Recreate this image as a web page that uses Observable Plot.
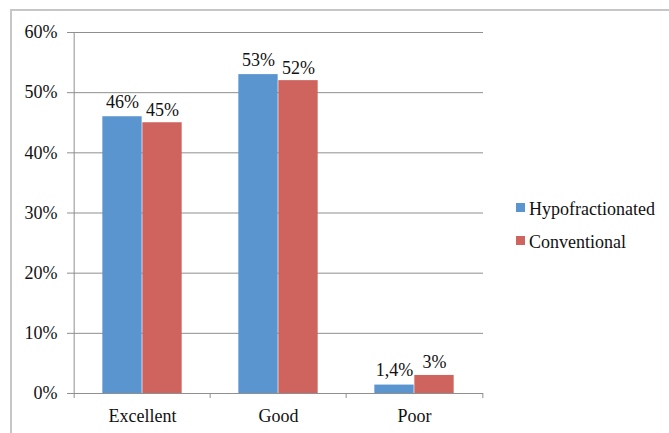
<!DOCTYPE html>
<html><head><meta charset="utf-8">
<script src="https://cdn.jsdelivr.net/npm/d3@7"></script>
<script src="https://cdn.jsdelivr.net/npm/@observablehq/plot@0.6"></script>
<style>
body{margin:0;background:#fff;}
#wrap{position:relative;width:669px;height:433px;overflow:hidden;font-family:"Liberation Serif",serif;background:#fff;}
#frame{position:absolute;left:10px;top:9px;width:700px;height:500px;border-left:2px solid #c6c6c6;border-top:2px solid #c6c6c6;pointer-events:none;}
#chart{position:absolute;left:0;top:0;}
#legend{position:absolute;left:516px;top:192px;font-size:18px;color:#111;line-height:1;}
.item{display:flex;align-items:center;height:33px;}
.sw{width:9px;height:9px;margin-right:4px;margin-top:-3px;}
</style></head>
<body>
<div id="wrap"><div id="chart"></div><div id="frame"></div><div id="legend"></div></div>
<script>
const categories = ["Excellent", "Good", "Poor"];
const series = ["Hypofractionated", "Conventional"];
const hypoValues = [0.46, 0.53, 0.014];
const convValues = [0.45, 0.52, 0.03];
const hypoLabels = ["46%", "53%", "1,4%"];
const convLabels = ["45%", "52%", "3%"];
const yTicks = [0, 0.1, 0.2, 0.3, 0.4, 0.5, 0.6];
const colors = ["#5b95cf", "#cf635e"];

const W = 669, H = 433, ML = 73, MR = 186, MT = 32, MB = 40;
const step = (W - ML - MR) / categories.length;
const barW = 40;
const outer = step / 2 - barW;
const inner = step / 2;
const grid = "#8f8f8f";

const hypo = categories.map((c, i) => ({category: c, value: hypoValues[i], label: hypoLabels[i]}));
const conv = categories.map((c, i) => ({category: c, value: convValues[i], label: convLabels[i]}));

const chart = Plot.plot({
  width: W, height: H,
  marginLeft: ML, marginRight: MR, marginTop: MT, marginBottom: MB,
  style: {fontFamily: "Liberation Serif, serif", fontSize: "18px", background: "transparent", color: "#111"},
  x: {domain: categories, padding: 0},
  y: {domain: [0, 0.6]},
  marks: [
    Plot.ruleY(yTicks, {stroke: grid, strokeWidth: 1}),
    Plot.ruleX([categories[0]], {dx: -step / 2, y1: 0, y2: 0.6, stroke: grid}),
    Plot.ruleX(categories, {x: d => d, y1: 0, y2: 0, insetBottom: -5, dx: -step / 2, stroke: grid}),
    Plot.ruleX([categories[categories.length - 1]], {y1: 0, y2: 0, insetBottom: -5, dx: step / 2, stroke: grid}),
    Plot.barY(hypo, {x: "category", y: "value", fill: colors[0], insetLeft: outer, insetRight: inner}),
    Plot.barY(conv, {x: "category", y: "value", fill: colors[1], insetLeft: inner, insetRight: outer}),
    Plot.text(hypo, {x: "category", y: "value", text: "label", dx: -barW / 2, dy: -9, lineAnchor: "bottom", fill: "#111"}),
    Plot.text(conv, {x: "category", y: "value", text: "label", dx: barW / 2, dy: -7, lineAnchor: "bottom", fill: "#111"}),
    Plot.axisY({ticks: yTicks, tickFormat: d3.format(".0%"), tickSize: 6, tickPadding: 10, stroke: grid, label: null, fill: "#111"}),
    Plot.axisX({tickSize: 0, tickPadding: 16, label: null, fill: "#111"})
  ]
});
document.getElementById("chart").appendChild(chart);

const legend = document.getElementById("legend");
series.forEach((s, i) => {
  const it = document.createElement("div");
  it.className = "item";
  const sw = document.createElement("span");
  sw.className = "sw";
  sw.style.background = colors[i];
  const t = document.createElement("span");
  t.textContent = s;
  it.appendChild(sw); it.appendChild(t);
  legend.appendChild(it);
});
</script>
</body></html>
